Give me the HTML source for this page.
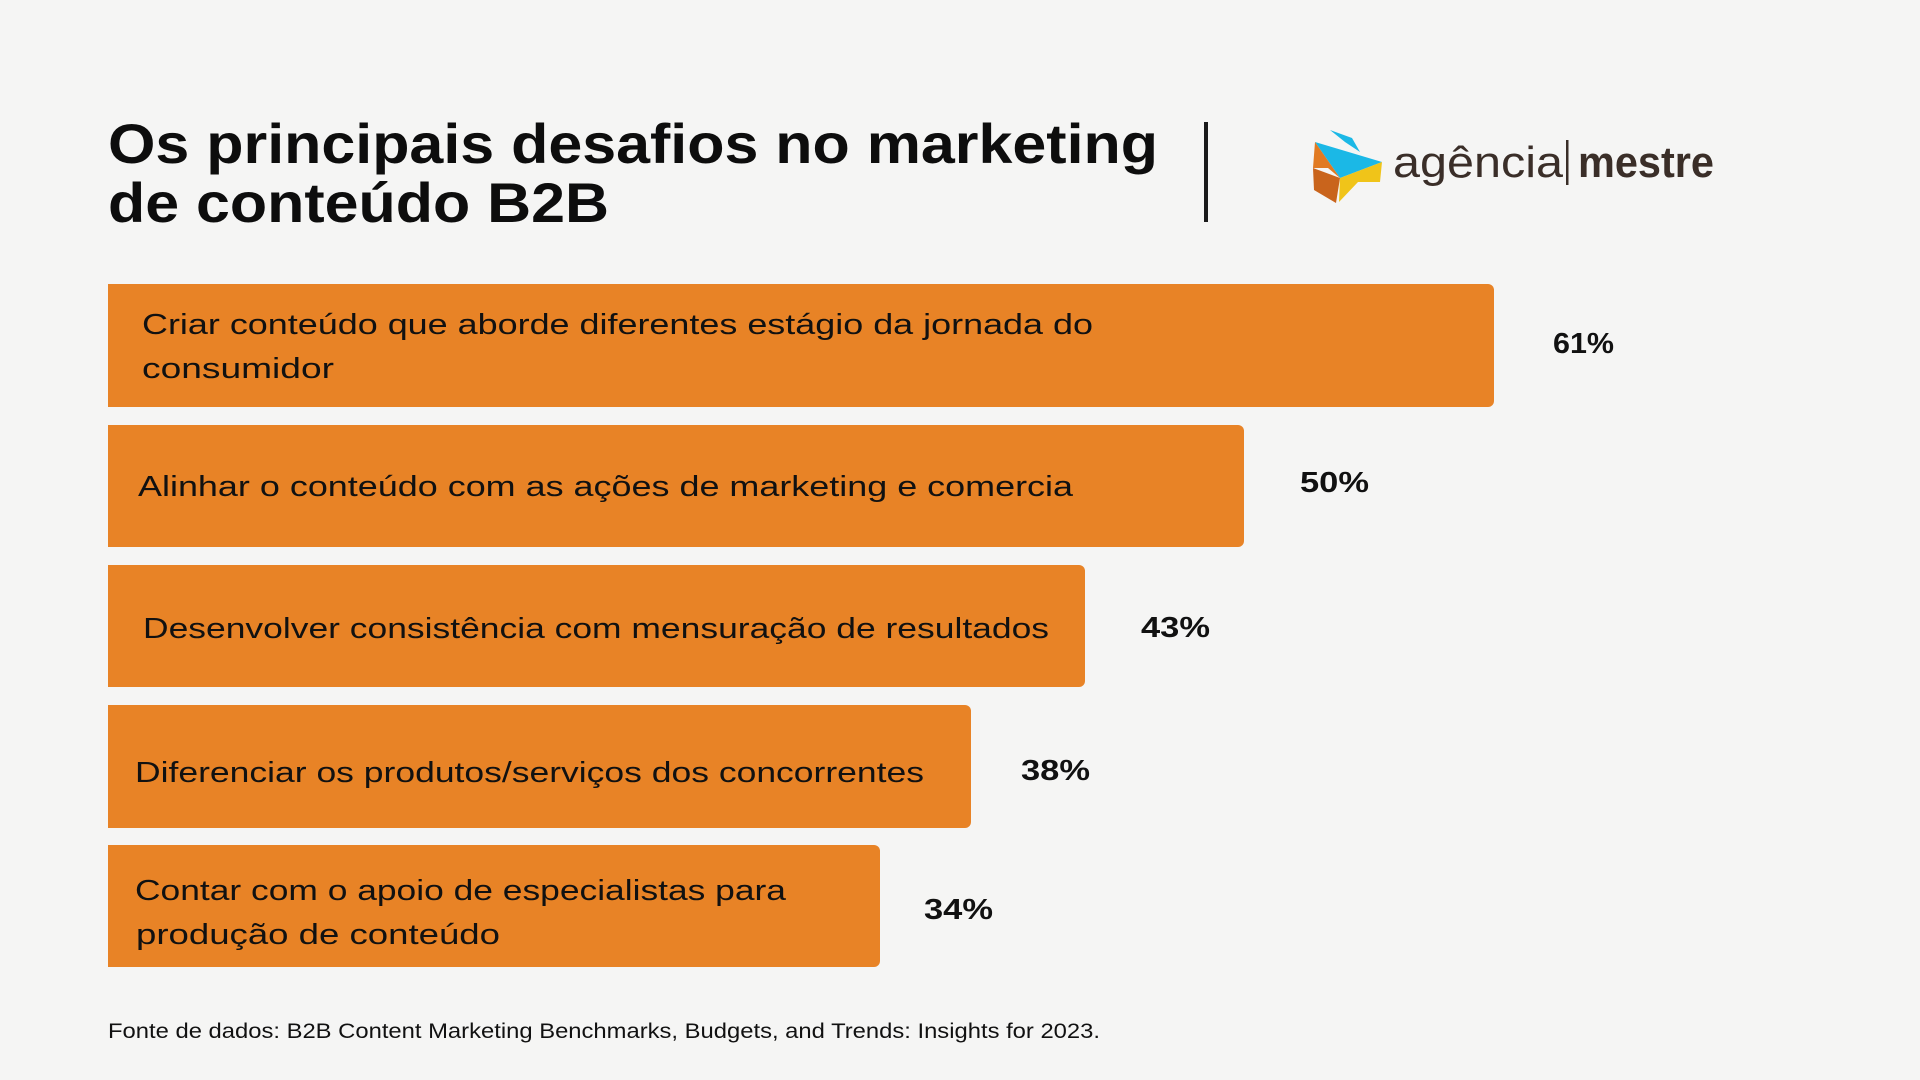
<!DOCTYPE html>
<html><head><meta charset="utf-8"><style>
html,body{margin:0;padding:0;background:#f5f5f4;}
svg{display:block}
text{font-family:"Liberation Sans",sans-serif}
</style></head><body>
<svg width="1920" height="1080" viewBox="0 0 1920 1080" xmlns="http://www.w3.org/2000/svg">
<rect width="1920" height="1080" fill="#f5f5f4"/>
<g font-weight="bold" font-size="56" fill="#0d0d0d">
<text x="108" y="163" textLength="1050" lengthAdjust="spacingAndGlyphs">Os principais desafios no marketing</text>
<text x="108" y="222" textLength="501" lengthAdjust="spacingAndGlyphs">de conteúdo B2B</text>
</g>
<rect x="1204" y="122" width="4" height="100" fill="#1a1a1a"/>
<!-- logo -->
<g>
<polygon points="1315,142 1382,162 1340,178" fill="#1bb8e6"/>
<polygon points="1330,130 1345,142 1360,152 1352,138" fill="#1bb8e6"/>
<polygon points="1315,142 1340,178 1328,168 1313,168" fill="#e17a22"/>
<polygon points="1313,168 1340,178 1336,203 1314,190" fill="#c9641c"/>
<polygon points="1340,178 1382,162 1380,182 1358,182 1339,202" fill="#f0c419"/>
</g>
<text x="1393" y="177" font-size="44" fill="#3a2e28" textLength="170" lengthAdjust="spacingAndGlyphs">agência</text>
<rect x="1566" y="140" width="2.5" height="45" fill="#3a2e28"/>
<text x="1578" y="177" font-size="44" font-weight="bold" fill="#3a2e28" textLength="136" lengthAdjust="spacingAndGlyphs">mestre</text>
<!-- bars -->
<g fill="#e88326">
<path d="M108 284 H1488 a6 6 0 0 1 6 6 V401 a6 6 0 0 1 -6 6 H108 Z"/>
<path d="M108 425 H1238 a6 6 0 0 1 6 6 V541 a6 6 0 0 1 -6 6 H108 Z"/>
<path d="M108 565 H1079 a6 6 0 0 1 6 6 V681 a6 6 0 0 1 -6 6 H108 Z"/>
<path d="M108 705 H965 a6 6 0 0 1 6 6 V822 a6 6 0 0 1 -6 6 H108 Z"/>
<path d="M108 845 H874 a6 6 0 0 1 6 6 V961 a6 6 0 0 1 -6 6 H108 Z"/>
</g>
<g font-size="29" fill="#111">
<text x="142" y="334" textLength="951" lengthAdjust="spacingAndGlyphs">Criar conteúdo que aborde diferentes estágio da jornada do</text>
<text x="142" y="378" textLength="192" lengthAdjust="spacingAndGlyphs">consumidor</text>
<text x="138" y="496" textLength="935" lengthAdjust="spacingAndGlyphs">Alinhar o conteúdo com as ações de marketing e comercia</text>
<text x="143" y="638" textLength="906" lengthAdjust="spacingAndGlyphs">Desenvolver consistência com mensuração de resultados</text>
<text x="135" y="782" textLength="789" lengthAdjust="spacingAndGlyphs">Diferenciar os produtos/serviços dos concorrentes</text>
<text x="135" y="900" textLength="651" lengthAdjust="spacingAndGlyphs">Contar com o apoio de especialistas para</text>
<text x="136" y="944" textLength="364" lengthAdjust="spacingAndGlyphs">produção de conteúdo</text>
</g>
<g font-size="29" font-weight="bold" fill="#111">
<text x="1553" y="353" textLength="61" lengthAdjust="spacingAndGlyphs">61%</text>
<text x="1300" y="492" textLength="69" lengthAdjust="spacingAndGlyphs">50%</text>
<text x="1141" y="637" textLength="69" lengthAdjust="spacingAndGlyphs">43%</text>
<text x="1021" y="780" textLength="69" lengthAdjust="spacingAndGlyphs">38%</text>
<text x="924" y="919" textLength="69" lengthAdjust="spacingAndGlyphs">34%</text>
</g>
<text x="108" y="1038" font-size="21" fill="#111" textLength="992" lengthAdjust="spacingAndGlyphs">Fonte de dados: B2B Content Marketing Benchmarks, Budgets, and Trends: Insights for 2023.</text>
</svg>
</body></html>
